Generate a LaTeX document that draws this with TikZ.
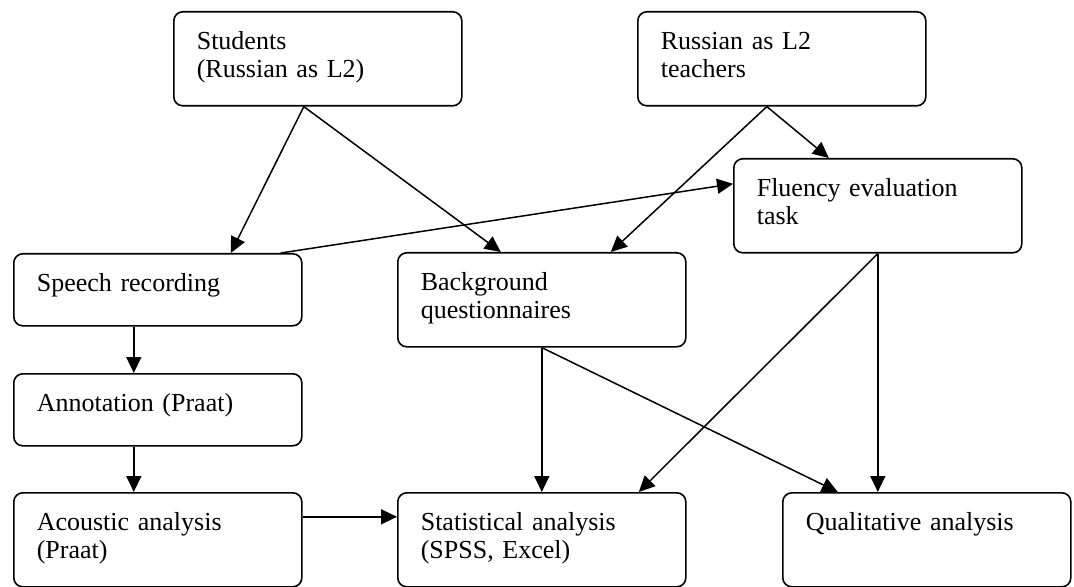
\documentclass[tikz,border=0pt]{standalone}
\usepackage{fontspec}
\setmainfont{Liberation Serif}
\usetikzlibrary{arrows.meta}
\newcommand{\twelve}{\fontsize{13}{14}\selectfont}
\tikzset{
 every node/.append style={font=\twelve,align=left},
 box/.style={draw,rounded corners=4.5pt,line width=.8pt,anchor=north west,minimum width=144pt,text width=121pt,inner xsep=11.5pt,inner ysep=0pt,text height=19pt},
 tallbox/.style={box,text depth=28pt},
 flatbox/.style={box,text depth=17pt},
 flow/.style={-{Triangle[length=8pt,width=7.5pt]},line width=.75pt},
}

\begin{document}
\begin{tikzpicture}[x=.5pt,y=-.5pt]
\useasboundingbox (0,0) rectangle (1074,587);

\node[tallbox] (students) at (173,11) {Students\\(Russian as L2)};
\node[tallbox] (teachers) at (637,11) {Russian as L2\\teachers};
\node[tallbox] (fluency) at (733,158) {Fluency evaluation\\task};
\node[flatbox] (speech) at (13,253) {Speech recording};
\node[tallbox] (background) at (397,252) {Background\\questionnaires};
\node[flatbox] (annotation) at (13,373) {Annotation (Praat)};
\node[tallbox] (acoustic) at (13,492) {Acoustic analysis\\(Praat)};
\node[tallbox] (stats) at (397,492) {Statistical analysis\\(SPSS, Excel)};
\node[tallbox] (quali) at (782,492) {Qualitative analysis};

\draw[flow] ([xshift=-7pt]students.south) -- ([xshift=36.5pt]speech.north);
\draw[flow] ([xshift=-7pt]students.south) -- ([xshift=-20.5pt]background.north);
\draw[flow] ([xshift=-7.5pt]teachers.south) -- ([xshift=-24.5pt]fluency.north);
\draw[flow] ([xshift=-7.5pt]teachers.south) -- ([xshift=34.5pt]background.north);
\draw[flow] ([xshift=61.5pt]speech.north) -- ([yshift=11pt]fluency.west);
\draw[flow] ([xshift=-12pt]speech.south) -- ([xshift=-12pt]annotation.north);
\draw[flow] ([xshift=-12pt]annotation.south) -- ([xshift=-12pt]acoustic.north);
\draw[flow] ([yshift=11.5pt]acoustic.east) -- ([yshift=11.5pt]stats.west);
\draw[flow] (background.south) -- (stats.north);
\draw[flow] (background.south) -- ([xshift=-44.5pt]quali.north);
\draw[flow] (fluency.south) -- ([xshift=48.5pt]stats.north);
\draw[flow] (fluency.south) -- ([xshift=-24.5pt]quali.north);

\end{tikzpicture}
\end{document}
